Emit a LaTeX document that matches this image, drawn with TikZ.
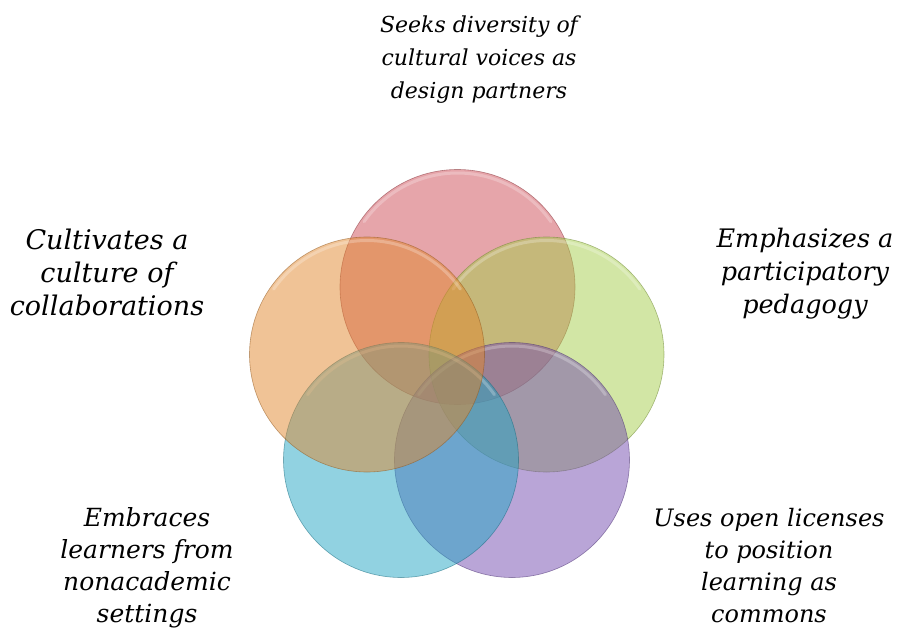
\documentclass[tikz,border=0pt]{standalone}
\usepackage{fontspec}
\setmainfont{DejaVu Serif}
\definecolor{cRed}{RGB}{205,75,85}
\definecolor{cGreen}{RGB}{165,205,75}
\definecolor{cPurple}{RGB}{115,75,175}
\definecolor{cBlue}{RGB}{35,165,195}
\definecolor{cOrange}{RGB}{225,135,45}
\begin{document}
\begin{tikzpicture}[x=1pt,y=-1pt,
  venn/.style={circle, minimum size=235pt, inner sep=0pt, fill=#1, fill opacity=0.5, draw=#1!65!black, draw opacity=0.55, line width=0.6pt},
  gloss/.style={draw=white, draw opacity=0.25, line width=3pt, line cap=round},
  lbl/.style={align=center, text=black, inner sep=0pt}]
\useasboundingbox (0,0) rectangle (898,632);
\foreach \nm/\col/\cx/\cy in {red/cRed/457.5/287, green/cGreen/546.5/354.5, purple/cPurple/512/460, blue/cBlue/401/460, orange/cOrange/367/354.5}{
  \node[venn=\col] (\nm) at (\cx,\cy) {};
  \draw[gloss] ([shift={(35:-114)}]\nm.center) arc[start angle=35, end angle=145, radius=-114];
}
\node[lbl, font=\fontsize{22}{33}\selectfont\itshape] (t1) at (479,60) {Seeks diversity of\\cultural voices as\\design partners};
\node[lbl, font=\fontsize{25.5}{33}\selectfont\itshape] (t2) at (805,274) {Emphasizes a\\participatory\\pedagogy};
\node[lbl, font=\fontsize{24}{32}\selectfont\itshape] (t3) at (769,566) {Uses open licenses\\to position\\learning as\\commons};
\node[lbl, font=\fontsize{25}{32}\selectfont\itshape] (t4) at (147,568) {Embraces\\learners from\\nonacademic\\settings};
\node[lbl, font=\fontsize{27}{33}\selectfont\itshape] (t5) at (107,272) {Cultivates a\\culture of\\collaborations};
\end{tikzpicture}
\end{document}
